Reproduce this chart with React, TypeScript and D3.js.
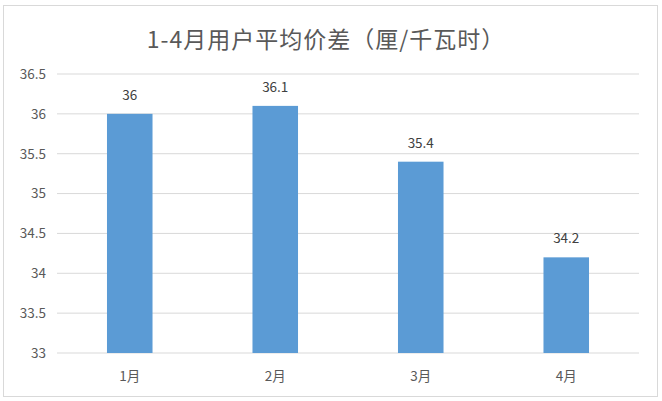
import React from "react";
import * as d3 from "d3";

const categories = ["1月", "2月", "3月", "4月"];
const values = [36, 36.1, 35.4, 34.2];
const yTicks = [33, 33.5, 34, 34.5, 35, 35.5, 36, 36.5];
const title = "1-4月用户平均价差（厘/千瓦时）";

const W = 662;
const H = 401;
const font = "'Noto Sans CJK SC', 'Noto Sans', sans-serif";

export default function App() {
  const x = d3.scaleBand<string>().domain(categories).range([57, 639]).paddingInner(0.687).paddingOuter(0.3435);
  const y = d3.scaleLinear().domain([33, 36.5]).range([353, 74]);
  const fmt = (v: number) => String(v);

  return (
    <svg width={W} height={H} style={{ position: "absolute", left: 0, top: 0, background: "#fff" }} fontFamily={font}>
      <rect x={3.5} y={5.5} width={654} height={391} fill="#fff" stroke="#D9D9D9" strokeWidth={1} />
      <text x={326} y={48} textAnchor="middle" fontSize={23} letterSpacing={1} fill="#595959">{title}</text>
      {yTicks.map((t) => (
        <g key={t}>
          <line x1={57} x2={639} y1={y(t)} y2={y(t)} stroke="#D9D9D9" strokeWidth={1} />
          <text x={46} y={y(t)} dy="0.36em" textAnchor="end" fontSize={13.5} fill="#595959">{fmt(t)}</text>
        </g>
      ))}
      {categories.map((c, i) => (
        <g key={c}>
          <rect x={x(c)} y={y(values[i])} width={x.bandwidth()} height={y(33) - y(values[i])} fill="#5B9BD5" />
          <text x={(x(c) ?? 0) + x.bandwidth() / 2} y={y(values[i]) - 14} textAnchor="middle" fontSize={13.5} fill="#404040">{fmt(values[i])}</text>
          <text x={(x(c) ?? 0) + x.bandwidth() / 2} y={381} textAnchor="middle" fontSize={13.5} fill="#595959">{c}</text>
        </g>
      ))}
    </svg>
  );
}
